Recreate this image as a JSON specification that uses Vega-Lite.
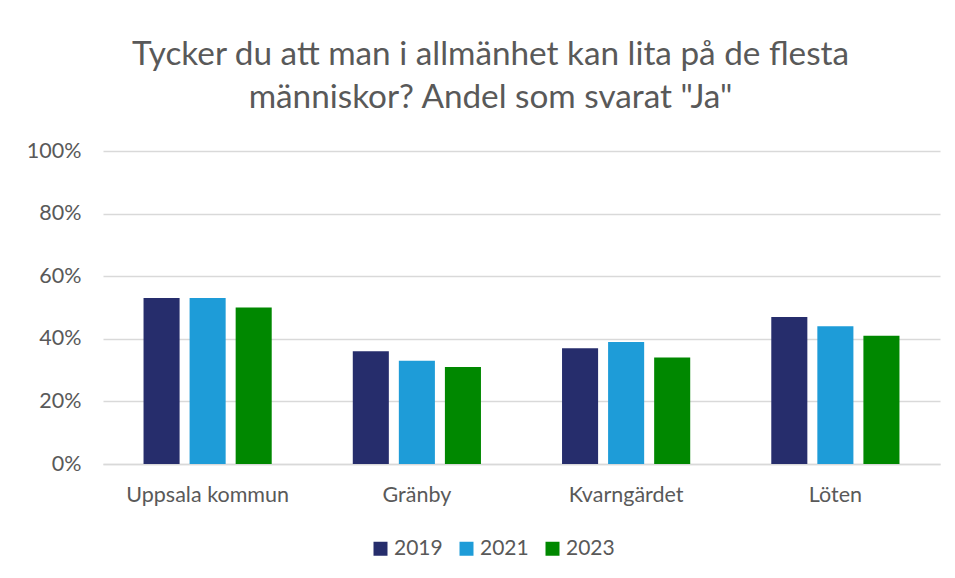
{
  "$schema": "https://vega.github.io/schema/vega-lite/v6.json",
  "width": 837,
  "height": 313,
  "autosize": {"type": "none"},
  "padding": {"left": 103, "top": 151, "right": 15, "bottom": 114},
  "background": "white",
  "title": {
    "text": ["Tycker du att man i allmänhet kan lita på de flesta", "människor? Andel som svarat \"Ja\""],
    "anchor": "middle",
    "frame": "group",
    "dx": -31,
    "offset": 25,
    "font": "Lato",
    "fontSize": 33.3,
    "fontWeight": "normal",
    "color": "#595959",
    "lineHeight": 43
  },
  "data": {
    "values": [
      {"omrade": "Uppsala kommun", "ar": "2019", "andel": 0.53},
      {"omrade": "Uppsala kommun", "ar": "2021", "andel": 0.53},
      {"omrade": "Uppsala kommun", "ar": "2023", "andel": 0.50},
      {"omrade": "Gränby", "ar": "2019", "andel": 0.36},
      {"omrade": "Gränby", "ar": "2021", "andel": 0.33},
      {"omrade": "Gränby", "ar": "2023", "andel": 0.31},
      {"omrade": "Kvarngärdet", "ar": "2019", "andel": 0.37},
      {"omrade": "Kvarngärdet", "ar": "2021", "andel": 0.39},
      {"omrade": "Kvarngärdet", "ar": "2023", "andel": 0.34},
      {"omrade": "Löten", "ar": "2019", "andel": 0.47},
      {"omrade": "Löten", "ar": "2021", "andel": 0.44},
      {"omrade": "Löten", "ar": "2023", "andel": 0.41}
    ]
  },
  "mark": {"type": "bar"},
  "encoding": {
    "x": {
      "field": "omrade",
      "type": "nominal",
      "sort": ["Uppsala kommun", "Gränby", "Kvarngärdet", "Löten"],
      "scale": {"paddingInner": 0, "paddingOuter": 0},
      "axis": {
        "title": null,
        "labelAngle": 0,
        "labelFont": "Lato",
        "labelFontSize": 21.5,
        "labelColor": "#595959",
        "labelPadding": 20,
        "ticks": false,
        "domainColor": "#D9D9D9",
        "domainWidth": 1.5,
        "grid": false
      }
    },
    "xOffset": {
      "field": "ar",
      "type": "nominal",
      "scale": {"paddingInner": 0.217, "paddingOuter": 0.88}
    },
    "y": {
      "field": "andel",
      "type": "quantitative",
      "scale": {"domain": [0, 1]},
      "axis": {
        "title": null,
        "values": [0, 0.2, 0.4, 0.6, 0.8, 1],
        "format": ".0%",
        "labelFont": "Lato",
        "labelFontSize": 21.5,
        "labelColor": "#595959",
        "labelPadding": 22,
        "ticks": false,
        "domain": false,
        "gridColor": "#D9D9D9",
        "gridWidth": 1.5
      }
    },
    "color": {
      "field": "ar",
      "type": "nominal",
      "scale": {"domain": ["2019", "2021", "2023"], "range": ["#262D6C", "#1E9CD8", "#008800"]},
      "legend": {
        "title": null,
        "orient": "none",
        "direction": "horizontal",
        "legendX": 267,
        "legendY": 387,
        "symbolType": "square",
        "symbolSize": 196,
        "symbolStrokeWidth": 0,
        "labelFont": "Lato",
        "labelFontSize": 21,
        "labelColor": "#595959",
        "labelOffset": 3,
        "columnPadding": 13
      }
    }
  },
  "config": {"view": {"stroke": null}}
}
